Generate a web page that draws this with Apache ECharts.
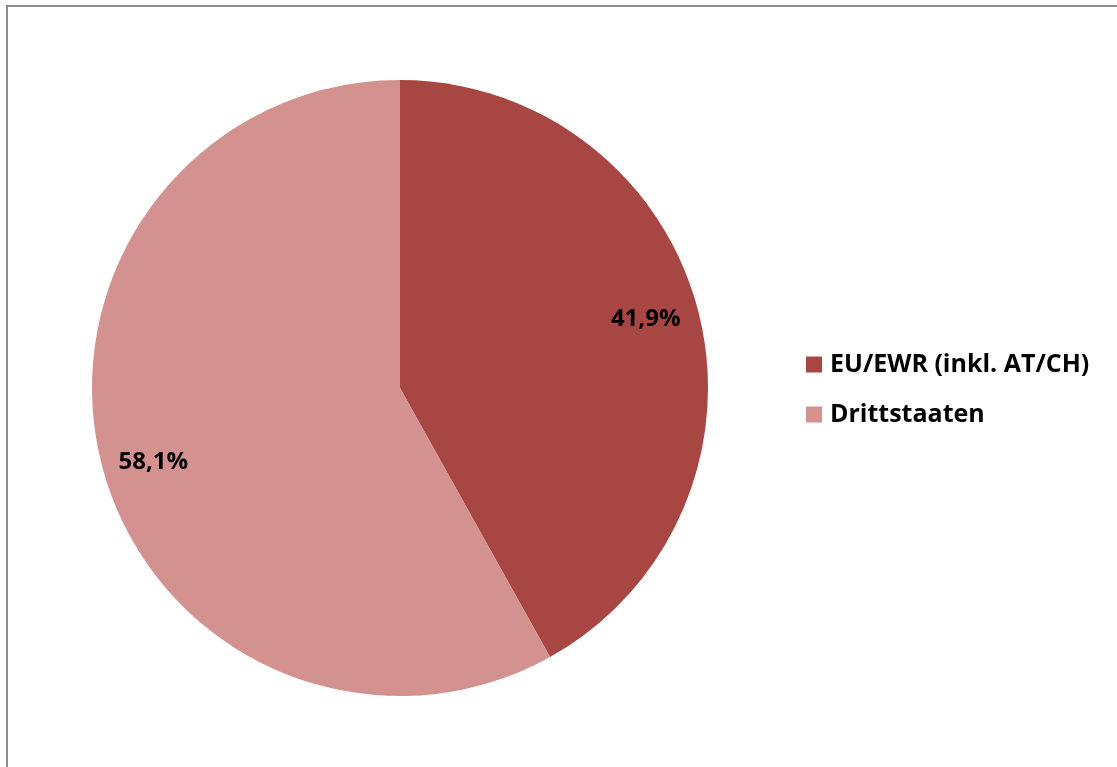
<!DOCTYPE html>
<html>
<head>
<meta charset="utf-8">
<script src="https://cdn.jsdelivr.net/npm/echarts@6/dist/echarts.min.js"></script>
<style>
  html, body { margin: 0; padding: 0; background: #fff; }
  #frame {
    position: absolute; left: 6px; top: 5px; width: 1200px; height: 800px;
    border-left: 2px solid #8c8c8c; border-top: 2px solid #8c8c8c;
  }
  #chart { position: absolute; left: 0; top: 0; width: 1117px; height: 767px; }
</style>
</head>
<body>
<div id="frame"></div>
<div id="chart"></div>
<script>
// regions of origin, share in percent
const categories = ["EU/EWR (inkl. AT/CH)", "Drittstaaten"];
const shares = [41.9, 58.1];
const colors = ["#a84644", "#d39290"];

const pieData = categories.map((name, i) => {
  return { name: name, value: shares[i], itemStyle: { color: colors[i] } };
});

const chart = echarts.init(document.getElementById("chart"));
const fontFamily = "'Open Sans', 'Noto Sans', sans-serif";
// small nudges so the labels sit where the original tool put them
const labelNudge = [
  [-4, -4],
  [3, 9],
];

chart.setOption({
  animation: false,
  legend: {
    orient: "vertical",
    left: 801,
    top: 347,
    itemWidth: 16,
    itemHeight: 16,
    itemGap: 25,
    icon: "rect",
    data: categories,
    textStyle: {
      color: "#000",
      fontFamily: fontFamily,
      fontWeight: "bold",
      fontSize: 25,
      lineHeight: 25,
      padding: [0, 0, 0, 3],
    },
  },
  series: [
    {
      // the filled pie itself
      type: "pie",
      center: [400, 388],
      radius: [0, 308],
      startAngle: 90,
      clockwise: true,
      silent: true,
      label: { show: false },
      labelLine: { show: false },
      data: pieData,
    },
    {
      // transparent ring only used to place the percent labels
      type: "pie",
      center: [400, 388],
      radius: [200, 310],
      startAngle: 90,
      clockwise: true,
      silent: true,
      itemStyle: { color: "transparent" },
      label: {
        show: true,
        position: "inside",
        color: "#000",
        fontFamily: fontFamily,
        fontWeight: "bold",
        fontSize: 24,
        formatter: (p) => p.value.toFixed(1).replace(".", ",") + "%",
      },
      labelLayout: (params) => {
        const n = labelNudge[params.dataIndex];
        return { dx: n[0], dy: n[1] };
      },
      labelLine: { show: false },
      data: categories.map((name, i) => ({ name: name, value: shares[i] })),
    },
  ],
});
</script>
</body>
</html>
